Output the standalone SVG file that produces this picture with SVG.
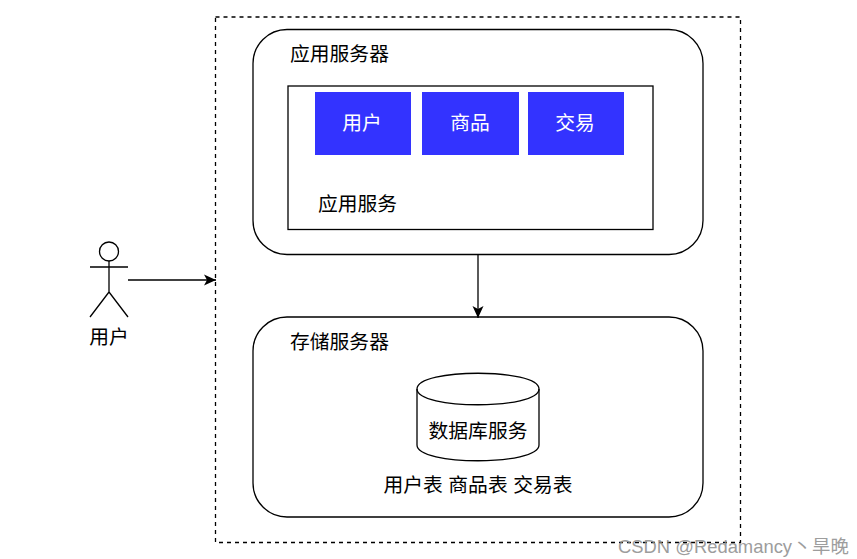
<svg xmlns="http://www.w3.org/2000/svg" width="857" height="559" viewBox="0 0 857 559">
<style>
text{font-family:"Liberation Sans","Noto Sans CJK SC",sans-serif;font-size:19.800px;fill:#000}
.s{fill:#fff;stroke:#000;stroke-width:1.3}
.b{fill:#3333ff}
.t{fill:#fff}
.l{fill:none;stroke:#000;stroke-width:1.3}
text.wm{font-size:18.400px;fill:#8c8c8c;opacity:.85}
</style>
<defs><marker id="a" markerUnits="userSpaceOnUse" markerWidth="14" markerHeight="14" refX="12" refY="6.500" orient="auto"><path d="M0 1 L12 6.500 L0 12 L3 6.500Z" fill="#000"/></marker></defs>
<rect width="857" height="559" fill="#fff"/>
<g id="boundary"><rect x="215.500" y="17" width="525" height="525.500" fill="none" stroke="#000" stroke-width="1.3" stroke-dasharray="4 4"/></g>
<g id="app-server"><rect class="s" x="253" y="29.500" width="450" height="225" rx="34"/><text x="290" y="61">应用服务器</text></g>
<g id="app-service"><rect class="s" x="288" y="86" width="365" height="143.500"/><text x="318" y="211">应用服务</text></g>
<g id="n-user"><rect class="b" x="315" y="92" width="96" height="63"/><text class="t" x="362" y="130" text-anchor="middle">用户</text></g>
<g id="n-goods"><rect class="b" x="422" y="92" width="97" height="63"/><text class="t" x="470" y="130" text-anchor="middle">商品</text></g>
<g id="n-trade"><rect class="b" x="528" y="92" width="96" height="63"/><text class="t" x="575" y="130" text-anchor="middle">交易</text></g>
<g id="store-server"><rect class="s" x="253" y="317" width="450" height="200" rx="34"/><text x="290" y="349">存储服务器</text></g>
<g id="db"><path class="s" d="M417 389 C417 368 539 368 539 389 V445 C539 466 417 466 417 445Z"/><path class="l" d="M417 389 C417 410 539 410 539 389"/><text x="478" y="438" text-anchor="middle">数据库服务</text></g>
<g id="tables"><text x="478" y="492" text-anchor="middle">用户表 商品表 交易表</text></g>
<g id="actor"><circle class="s" cx="109" cy="251.500" r="9.500"/><path class="l" d="M109 261V292M90 267H128M109 292L90 317M109 292L128 317"/><text x="109" y="344" text-anchor="middle">用户</text></g>
<g id="connectors"><path class="l" d="M128 280H216" marker-end="url(#a)"/><path class="l" d="M478 255V318" marker-end="url(#a)"/></g>
<text class="wm" x="618" y="553">CSDN @Redamancy<tspan x="793">丶</tspan><tspan x="812">旱晚</tspan></text>
</svg>
